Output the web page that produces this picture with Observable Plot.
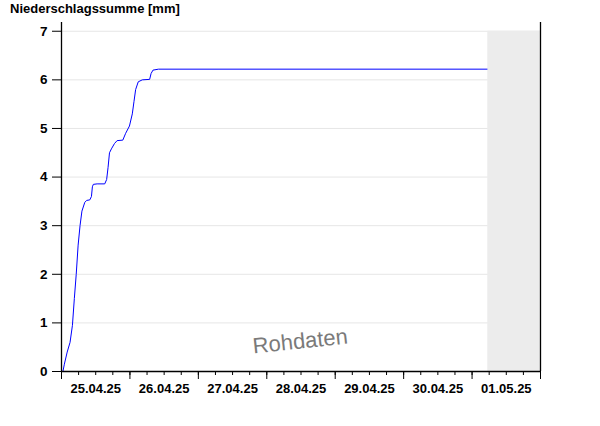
<!DOCTYPE html>
<html>
<head>
<meta charset="utf-8">
<script src="https://cdn.jsdelivr.net/npm/d3@7"></script>
<script src="https://cdn.jsdelivr.net/npm/@observablehq/plot@0.6"></script>
<style>
  html, body { margin: 0; padding: 0; background: #fff; }
  #wrap { position: relative; width: 600px; height: 426px; }
  #title { position: absolute; left: 10px; top: 1px; font: bold 13px "Liberation Sans", Arial, sans-serif; color: #000; }
</style>
</head>
<body>
<div id="wrap"><div id="title">Niederschlagssumme [mm]</div></div>
<script>
// Cumulative precipitation readings (UTC time, mm)
const times = [
  "2025-04-25T00:30","2025-04-25T01:00","2025-04-25T02:00","2025-04-25T03:00","2025-04-25T03:50",
  "2025-04-25T04:30","2025-04-25T05:10","2025-04-25T05:50","2025-04-25T06:30","2025-04-25T07:10",
  "2025-04-25T08:10","2025-04-25T08:50","2025-04-25T09:55","2025-04-25T10:30","2025-04-25T10:50",
  "2025-04-25T11:10","2025-04-25T12:30","2025-04-25T15:10","2025-04-25T15:50","2025-04-25T16:20",
  "2025-04-25T16:50","2025-04-25T17:30","2025-04-25T18:35","2025-04-25T19:30","2025-04-25T21:30",
  "2025-04-25T22:30","2025-04-25T23:50","2025-04-26T00:50","2025-04-26T01:25","2025-04-26T02:00",
  "2025-04-26T02:55","2025-04-26T04:20","2025-04-26T06:55","2025-04-26T07:25","2025-04-26T08:05",
  "2025-04-26T10:00","2025-05-01T05:15"
];
const values = [
  0, 0.15, 0.40, 0.60, 0.95,
  1.50, 2.00, 2.60, 3.00, 3.30,
  3.48, 3.52, 3.53, 3.60, 3.80,
  3.85, 3.86, 3.86, 3.95, 4.20,
  4.50, 4.58, 4.69, 4.75, 4.76,
  4.90, 5.05, 5.30, 5.55, 5.80,
  5.96, 6.00, 6.01, 6.13, 6.20,
  6.22, 6.22
];
const dayStarts = ["2025-04-25","2025-04-26","2025-04-27","2025-04-28","2025-04-29","2025-04-30","2025-05-01","2025-05-02"];
const dayLabels = ["25.04.25","26.04.25","27.04.25","28.04.25","29.04.25","30.04.25","01.05.25"];
const yTicks = [0, 1, 2, 3, 4, 5, 6, 7];
const futureStart = "2025-05-01T05:30";
const watermark = "Rohdaten";

const toDate = s => new Date(s.length === 10 ? s + "T00:00Z" : s + "Z");
const data = times.map((t, i) => ({t: toDate(t), v: values[i]}));
const days = dayStarts.map(toDate);
const noons = days.slice(0, -1).map(d => new Date(+d + 12 * 3600e3));
const minor = d3.utcHour.every(6).range(days[0], days[days.length - 1]);
const x0 = days[0], x1 = days[days.length - 1];
const yTop = 7.18;

const chart = Plot.plot({
  width: 600,
  height: 426,
  marginLeft: 61,
  marginRight: 60,
  marginTop: 22,
  marginBottom: 55,
  style: {fontFamily: '"Liberation Sans", Arial, sans-serif', fontSize: "13px", fontWeight: "bold", color: "#000", background: "#fff"},
  x: {type: "utc", domain: [x0, x1]},
  y: {domain: [0, yTop]},
  marks: [
    Plot.gridY(yTicks, {stroke: "#e6e6e6", strokeOpacity: 1}),
    Plot.rect([{a: toDate(futureStart), b: x1}], {x1: "a", x2: "b", y1: 0, y2: 7, fill: "#ececec"}),
    Plot.line(data, {x: "t", y: "v", stroke: "#0000ff", strokeWidth: 1}),
    Plot.ruleX([x0], {y1: 0, y2: yTop, stroke: "#000", strokeWidth: 1.3}),
    Plot.ruleX([x1], {y1: 0, y2: yTop, stroke: "#000", strokeWidth: 1.3}),
    Plot.ruleY([0], {stroke: "#000", strokeWidth: 1.3}),
    Plot.axisY(yTicks, {tickSize: 9, tickPadding: 5, fontSize: 13.5, fontWeight: "bold", label: null, tickFormat: d => String(d)}),
    Plot.axisX(minor, {tickSize: 4, tickFormat: () => "", label: null}),
    Plot.axisX(days, {tickSize: 8, tickFormat: () => "", label: null}),
    Plot.axisX(noons, {tickSize: 0, tickPadding: 12, fontSize: 13, fontWeight: "bold", label: null, tickFormat: (d, i) => dayLabels[i]}),
    Plot.text([watermark], {frameAnchor: "bottom", dy: -23, dx: 0, text: d => d, rotate: -6, fontSize: 22, fontWeight: "normal", fill: "#7a7a7a", stroke: "#fff", strokeWidth: 0.6})
  ]
});
document.getElementById("wrap").prepend(chart);
</script>
</body>
</html>
